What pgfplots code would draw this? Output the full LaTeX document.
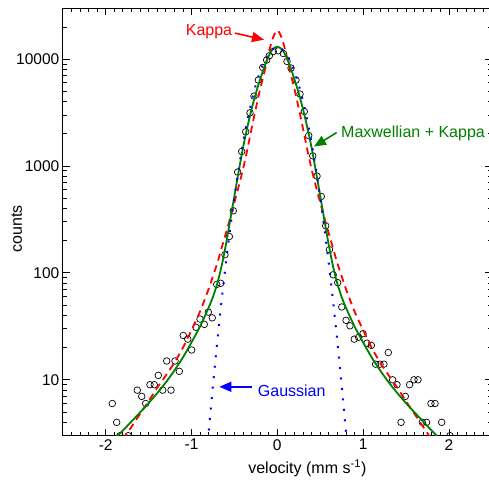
\documentclass[border=0pt]{standalone}
\usepackage{fontspec}
\setmainfont{Liberation Sans}
\usepackage{pgfplots}
\pgfplotsset{compat=1.18}
\usetikzlibrary{arrows.meta}
\definecolor{cGreen}{RGB}{0,128,0}
\definecolor{cRed}{RGB}{255,0,0}
\definecolor{cBlue}{RGB}{0,0,255}

\begin{document}
\begin{tikzpicture}
\useasboundingbox (-62.8pt,-44.9pt) rectangle (426.2pt,435.7pt);
\begin{axis}[
  at={(0pt,0pt)}, anchor=south west,
  scale only axis, width=429pt, height=427.6pt,
  xmin=-2.5, xmax=2.5, ymode=log, ymin=3, ymax=30000,
  xtick={-2,-1,0,1,2},
  minor xtick={-2.4,-2.3,...,2.45},
  ytick={10,100,1000,10000}, yticklabels={10,100,1000,10000},
  minor ytick={3,4,5,6,7,8,9,20,30,40,50,60,70,80,90,200,300,400,500,600,700,800,900,2000,3000,4000,5000,6000,7000,8000,9000,20000,30000},
  tick align=inside,
  major tick length=7pt, minor tick length=4pt,
  every tick/.style={black, line width=0.8pt},
  axis line style={line width=0.8pt},
  /pgf/number format/assume math mode=true,
  tick label style={font=\fontsize{15.5}{18}\selectfont},
  label style={font=\fontsize{16}{19}\selectfont},
  xlabel={velocity (mm s\textsuperscript{-1})},
  ylabel={counts},
  xlabel style={at={(axis description cs:0.57,-0.077)}, anchor=center},
  ylabel style={at={(axis description cs:-0.107,0.484)}, anchor=center},
  clip marker paths=true,
]
% measured counts
\addplot[only marks, mark=o, mark size=3.3pt, black, line width=0.7pt] coordinates {
(-1.923,6) (-1.872,4) (-1.833,3) (-1.737,3) (-1.632,8) (-1.580,7) (-1.534,6)
(-1.484,9) (-1.434,9) (-1.387,11) (-1.336,8) (-1.289,15) (-1.239,8) (-1.192,15)
(-1.142,12) (-1.096,26) (-1.044,24) (-0.998,19) (-0.948,31) (-0.901,37) (-0.851,33)
(-0.804,43) (-0.758,38) (-0.706,78) (-0.660,80)
(-0.610,148) (-0.559,219) (-0.513,381) (-0.462,877) (-0.415,1367) (-0.368,2089)
(-0.318,3148) (-0.272,4508) (-0.221,6365) (-0.170,8345) (-0.124,9790) (-0.093,10740)
(-0.047,11780) (0.012,11960) (0.070,11280) (0.113,9500) (0.160,8240) (0.218,6365)
(0.265,4710) (0.315,3236) (0.366,1928) (0.413,1245) (0.463,805) (0.513,519)
(0.564,276) (0.608,165) (0.651,96) (0.704,81)
(0.751,48) (0.801,36) (0.847,32) (0.897,24) (0.948,25) (0.999,27) (1.045,22)
(1.096,21) (1.146,14) (1.197,14) (1.243,14) (1.294,18) (1.344,10) (1.395,9)
(1.442,4) (1.492,7) (1.542,9) (1.593,10) (1.640,10) (1.690,4) (1.740,4)
(1.791,6) (1.838,6) (1.916,4) (2.013,3)
};
% Kappa fit
\addplot[cRed, line width=1.8pt, dash pattern=on 7pt off 5pt, smooth] coordinates {
(-1.8,2.75) (-1.7,3.63) (-1.6,4.79) (-1.5,6.31) (-1.4,8.41) (-1.3,10.96) (-1.2,14.45)
(-1.1,19.95) (-1.0,29.2) (-0.9,43.7) (-0.8,70.8) (-0.75,93.3) (-0.7,123) (-0.65,170)
(-0.6,234) (-0.55,324) (-0.5,457) (-0.45,646) (-0.4,933) (-0.35,1413) (-0.3,2239)
(-0.25,3467) (-0.2,5248) (-0.15,7586) (-0.1,11482) (-0.05,15849) (0,18621)
(0.05,15849) (0.1,11482) (0.15,7586) (0.2,5248) (0.25,3467) (0.3,2239) (0.35,1413)
(0.4,933) (0.45,646) (0.5,457) (0.55,324) (0.6,234) (0.65,170) (0.7,123) (0.75,93.3)
(0.8,70.8) (0.9,43.7) (1.0,29.2) (1.1,19.95) (1.2,14.45) (1.3,10.96) (1.4,8.41)
(1.5,6.31) (1.6,4.79) (1.7,3.63) (1.8,2.75)
};
% Maxwellian + Kappa fit
\addplot[cGreen, line width=1.8pt, smooth] coordinates {
(-1.9,2.79) (-1.8,3.35) (-1.7,4.07) (-1.6,4.95) (-1.5,6.05) (-1.4,7.50) (-1.3,9.44)
(-1.2,12.2) (-1.1,16.2) (-1.0,22.4) (-0.9,31.6) (-0.8,47.3) (-0.75,59.6) (-0.7,79.4)
(-0.65,115) (-0.6,182) (-0.55,309) (-0.5,525) (-0.45,891) (-0.4,1479) (-0.35,2291)
(-0.3,3388) (-0.25,4786) (-0.2,6457) (-0.15,8511) (-0.1,10720) (-0.05,12450) (0,13030)
(0.05,12450) (0.1,10720) (0.15,8511) (0.2,6457) (0.25,4786) (0.3,3388) (0.35,2291)
(0.4,1479) (0.45,891) (0.5,525) (0.55,309) (0.6,182) (0.65,115) (0.7,79.4)
(0.75,59.6) (0.8,47.3) (0.9,31.6) (1.0,22.4) (1.1,16.2) (1.2,12.2) (1.3,9.44)
(1.4,7.50) (1.5,6.05) (1.6,4.95) (1.7,4.07) (1.8,3.35) (1.9,2.79)
};
% Gaussian fit
\addplot[cBlue, line width=2pt, dash pattern=on 2pt off 8.5pt, smooth] coordinates {
(-0.82,2.14) (-0.8,3.26) (-0.75,8.89) (-0.7,22.7) (-0.65,54.4) (-0.6,122) (-0.55,257)
(-0.5,507) (-0.45,937) (-0.4,1625) (-0.35,2640) (-0.3,4020) (-0.25,5741) (-0.2,7674)
(-0.15,9627) (-0.1,11320) (-0.05,12470) (0,12882) (0.05,12470) (0.1,11320)
(0.15,9627) (0.2,7674) (0.25,5741) (0.3,4020) (0.35,2640) (0.4,1625) (0.45,937)
(0.5,507) (0.55,257) (0.6,122) (0.65,54.4) (0.7,22.7) (0.75,8.89) (0.8,3.26) (0.82,2.14)
};
% annotations
\draw[cRed, line width=1.6pt, -{Triangle[length=12pt,width=10pt]}]
  (axis cs:-0.493,17500) -- (axis cs:-0.155,15170);
\node[cRed, font=\fontsize{16}{19}\selectfont, anchor=center] at (axis cs:-0.796,17990) {Kappa};
\draw[cGreen, line width=1.6pt, -{Triangle[length=12pt,width=10pt]}]
  (axis cs:0.692,2056) -- (axis cs:0.428,1520);
\node[cGreen, font=\fontsize{16}{19}\selectfont, anchor=west, inner sep=1pt] at (axis cs:0.731,2040) {Maxwellian + Kappa};
\draw[cBlue, line width=1.6pt, -{Triangle[length=12pt,width=10pt]}]
  (axis cs:-0.295,8.6) -- (axis cs:-0.676,8.6);
\node[cBlue, font=\fontsize{16}{19}\selectfont, anchor=west, inner sep=1pt] at (axis cs:-0.240,7.9) {Gaussian};
\end{axis}
\end{tikzpicture}
\end{document}
